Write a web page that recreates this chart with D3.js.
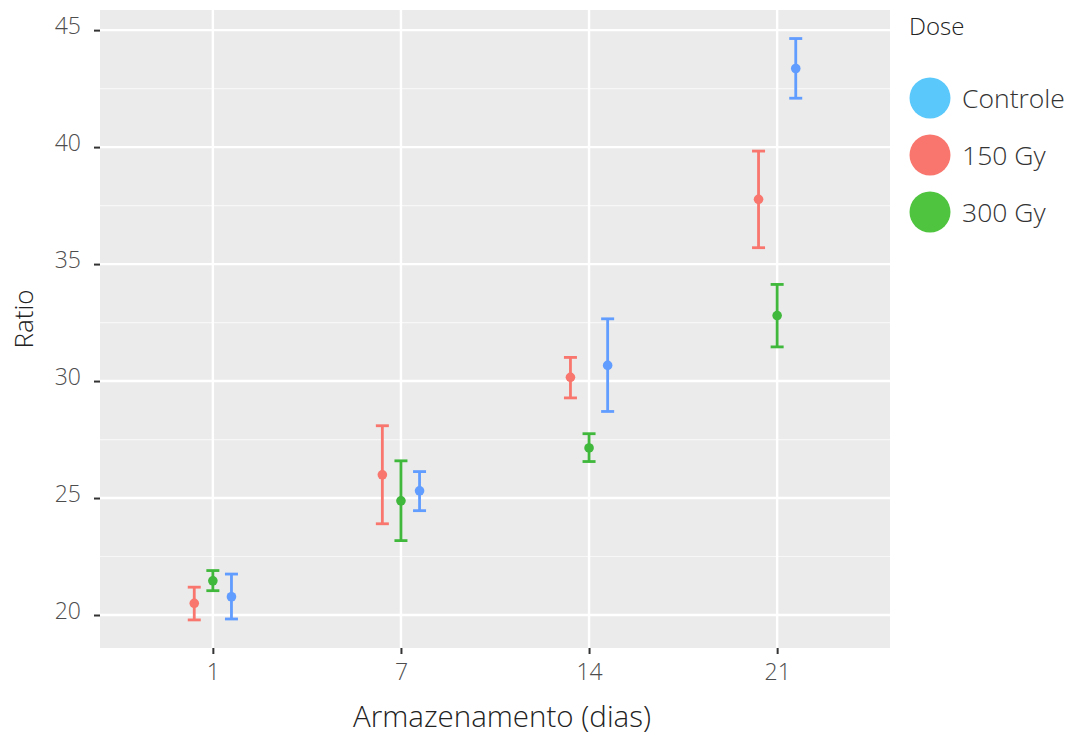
<!DOCTYPE html>
<html>
<head>
<meta charset="utf-8">
<script src="https://cdn.jsdelivr.net/npm/d3@7"></script>
<style>
  body { margin: 0; background: #fff; }
  text { font-family: "Open Sans", sans-serif; font-weight: 300; }
</style>
</head>
<body>
<div id="chart"></div>
<script>
// storage days (x categories)
const days = ["1", "7", "14", "21"];
// dodge order of the groups inside each day
const groups = ["150 Gy", "300 Gy", "Controle"];
// legend order
const legendOrder = ["Controle", "150 Gy", "300 Gy"];

// mean, lower and upper values per group, one per day
const mean150 = [20.50, 25.99, 30.16, 37.77];
const low150  = [19.79, 23.90, 29.28, 35.70];
const high150 = [21.19, 28.09, 31.01, 39.83];

const mean300 = [21.46, 24.88, 27.14, 32.80];
const low300  = [21.04, 23.18, 26.56, 31.46];
const high300 = [21.90, 26.59, 27.75, 34.13];

const meanCtl = [20.78, 25.31, 30.67, 43.36];
const lowCtl  = [19.83, 24.46, 28.70, 42.09];
const highCtl = [21.75, 26.13, 32.66, 44.64];

const yTicks = [20, 25, 30, 35, 40, 45];

const pointColor = { "150 Gy": "#F8766D", "300 Gy": "#3FB83B", "Controle": "#619CFF" };
const legendColor = { "Controle": "#5AC8FA", "150 Gy": "#F8766D", "300 Gy": "#4FC43F" };

const series = {
    "150 Gy": { mean: mean150, low: low150, high: high150 },
    "300 Gy": { mean: mean300, low: low300, high: high300 },
    "Controle": { mean: meanCtl, low: lowCtl, high: highCtl }
};

let rows = [];
groups.forEach(g => {
    days.forEach((d, i) => {
        rows.push({ day: d, group: g, mean: series[g].mean[i], low: series[g].low[i], high: series[g].high[i] });
    });
});

const W = 1075, H = 736;
const panel = { left: 100, top: 10, right: 890, bottom: 648 };

const svg = d3.select("#chart").append("svg")
    .attr("width", W)
    .attr("height", H);

// discrete x with ggplot-like 0.6 expansion
const x = d3.scalePoint()
    .domain(days)
    .range([panel.left, panel.right])
    .padding(0.6);

const dodge = d3.scalePoint()
    .domain(groups)
    .range([-18.6, 18.6]);

const y = d3.scaleLinear()
    .domain([18.59, 45.86])
    .range([panel.bottom, panel.top]);

// panel background
svg.append("rect")
    .attr("x", panel.left)
    .attr("y", panel.top)
    .attr("width", panel.right - panel.left)
    .attr("height", panel.bottom - panel.top)
    .attr("fill", "#EBEBEB");

// minor grid
const minor = d3.range(17.5, 46, 5).filter(v => v > y.domain()[0] && v < y.domain()[1]);
svg.append("g").selectAll("line")
    .data(minor)
    .join("line")
    .attr("x1", panel.left).attr("x2", panel.right)
    .attr("y1", d => y(d)).attr("y2", d => y(d))
    .attr("stroke", "#F7F7F7")
    .attr("stroke-width", 1.2);

// major grid
svg.append("g").selectAll("line")
    .data(yTicks)
    .join("line")
    .attr("x1", panel.left).attr("x2", panel.right)
    .attr("y1", d => y(d)).attr("y2", d => y(d))
    .attr("stroke", "#fff")
    .attr("stroke-width", 2.4);

svg.append("g").selectAll("line")
    .data(days)
    .join("line")
    .attr("x1", d => x(d)).attr("x2", d => x(d))
    .attr("y1", panel.top).attr("y2", panel.bottom)
    .attr("stroke", "#fff")
    .attr("stroke-width", 2.4);

// axes
const yAxis = svg.append("g")
    .attr("transform", `translate(${panel.left}, 0)`)
    .call(d3.axisLeft(y).tickValues(yTicks).tickSize(6).tickPadding(13));
yAxis.select(".domain").remove();
yAxis.selectAll(".tick line").attr("stroke", "#333").attr("stroke-width", 2);
yAxis.selectAll(".tick text").attr("fill", "#4D4D4D").attr("dy", "0.15em").style("font-size", "23px");

const xAxis = svg.append("g")
    .attr("transform", `translate(0, ${panel.bottom})`)
    .call(d3.axisBottom(x).tickSize(6).tickPadding(10));
xAxis.select(".domain").remove();
xAxis.selectAll(".tick line").attr("stroke", "#333").attr("stroke-width", 2);
xAxis.selectAll(".tick text").attr("fill", "#4D4D4D").style("font-size", "23px");

// axis titles
svg.append("text")
    .attr("x", 502)
    .attr("y", 727)
    .attr("text-anchor", "middle")
    .attr("fill", "#222")
    .style("font-size", "29.5px")
    .text("Armazenamento (dias)");

svg.append("text")
    .attr("transform", `translate(33, ${(panel.top + panel.bottom) / 2 - 10}) rotate(-90)`)
    .attr("text-anchor", "middle")
    .attr("fill", "#222")
    .style("font-size", "26px")
    .text("Ratio");

// error bars
const cap = 6.5;
const bars = svg.append("g").selectAll("g")
    .data(rows)
    .join("g")
    .attr("stroke", d => pointColor[d.group])
    .attr("stroke-width", 2.8);

bars.append("line")
    .attr("x1", d => x(d.day) + dodge(d.group))
    .attr("x2", d => x(d.day) + dodge(d.group))
    .attr("y1", d => y(d.low))
    .attr("y2", d => y(d.high));
bars.append("line")
    .attr("x1", d => x(d.day) + dodge(d.group) - cap)
    .attr("x2", d => x(d.day) + dodge(d.group) + cap)
    .attr("y1", d => y(d.low))
    .attr("y2", d => y(d.low));
bars.append("line")
    .attr("x1", d => x(d.day) + dodge(d.group) - cap)
    .attr("x2", d => x(d.day) + dodge(d.group) + cap)
    .attr("y1", d => y(d.high))
    .attr("y2", d => y(d.high));

svg.append("g").selectAll("circle")
    .data(rows)
    .join("circle")
    .attr("cx", d => x(d.day) + dodge(d.group))
    .attr("cy", d => y(d.mean))
    .attr("r", 4.8)
    .attr("fill", d => pointColor[d.group]);

// legend
const legend = svg.append("g");
legend.append("text")
    .attr("x", 909)
    .attr("y", 35)
    .attr("fill", "#222")
    .style("font-size", "24px")
    .text("Dose");

const items = legend.selectAll("g.item")
    .data(legendOrder)
    .join("g")
    .attr("class", "item")
    .attr("transform", (d, i) => `translate(930, ${98 + i * 57})`);
items.append("circle")
    .attr("r", 20.5)
    .attr("fill", d => legendColor[d]);
items.append("text")
    .attr("x", 32)
    .attr("dy", "0.36em")
    .attr("fill", "#333")
    .style("font-size", "26.5px")
    .text(d => d);
</script>
</body>
</html>
